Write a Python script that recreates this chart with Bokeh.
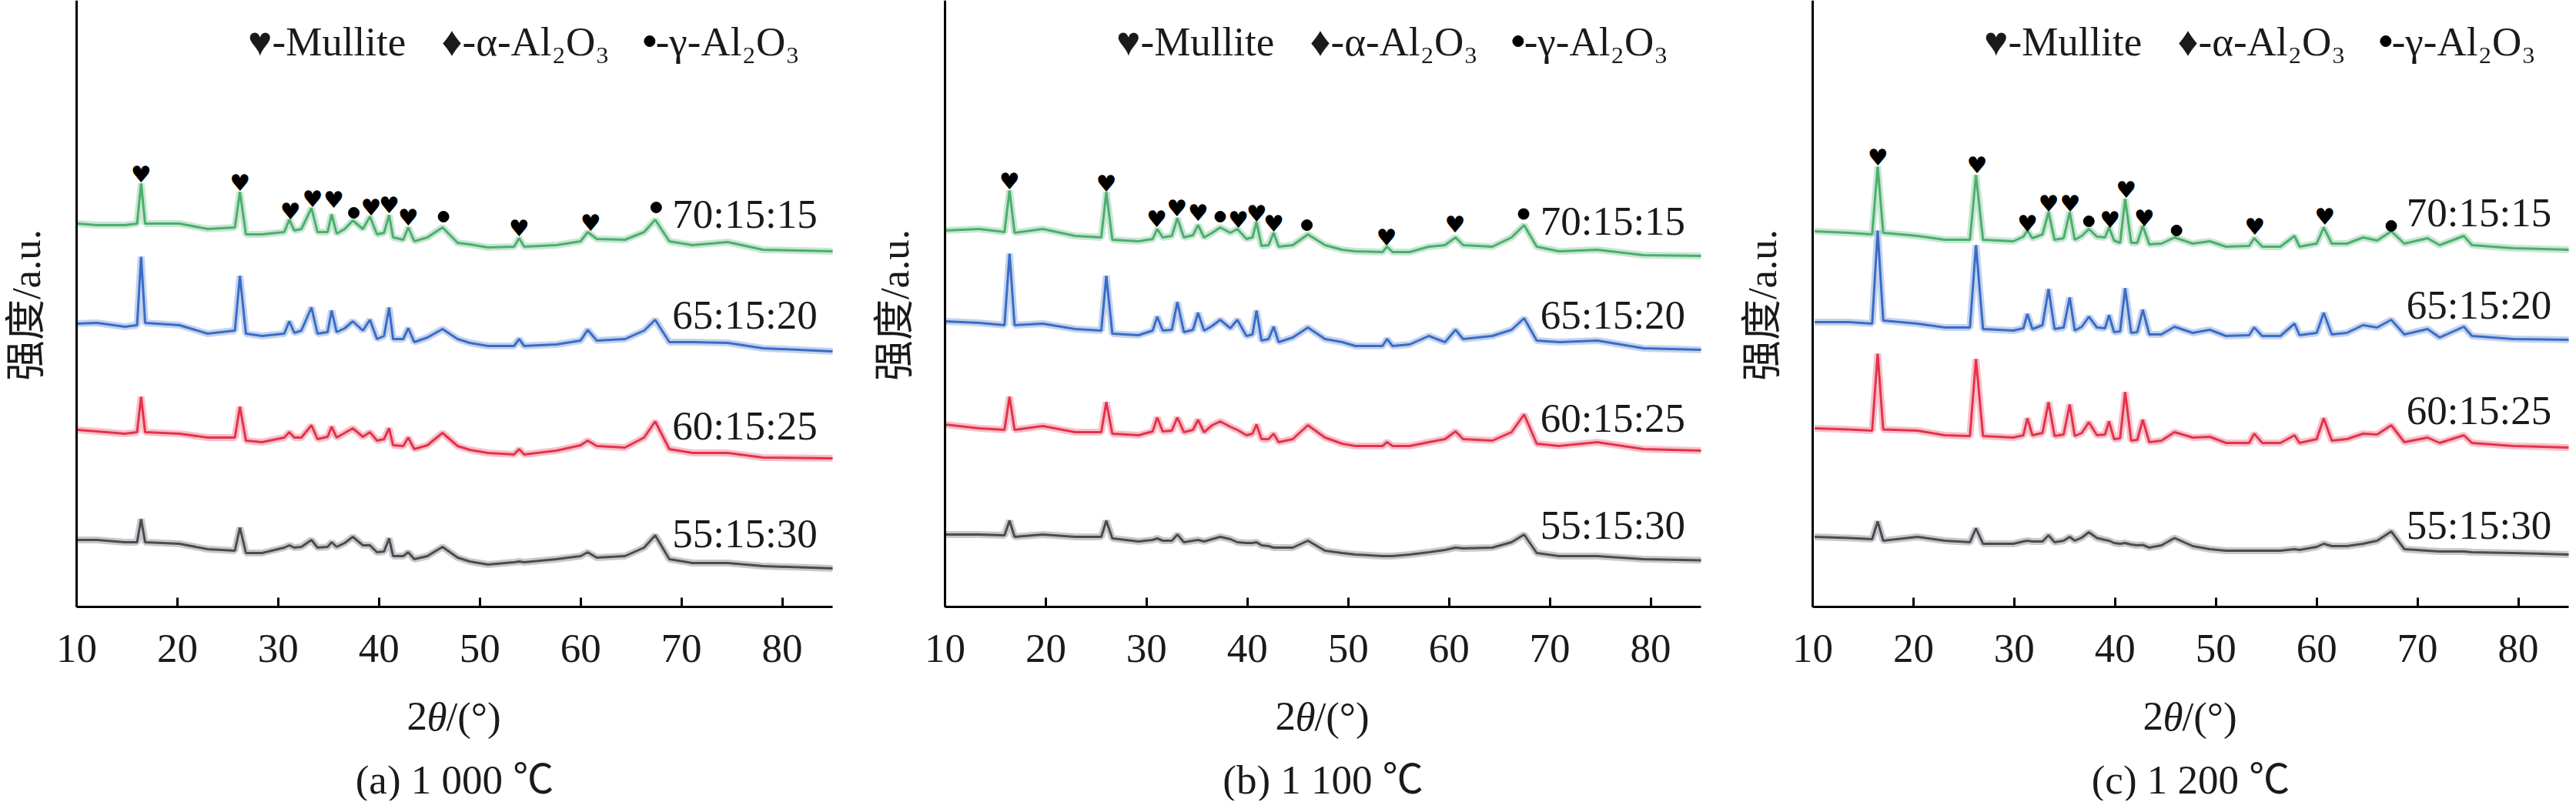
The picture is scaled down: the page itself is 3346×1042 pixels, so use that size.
import math
from bokeh.plotting import figure
from bokeh.models import Range1d, FixedTicker, LinearAxis
from bokeh.layouts import row
from bokeh.embed import file_html
from bokeh.resources import INLINE
from bokeh.core.properties import value

# XRD patterns: 2theta (deg) and stacked intensity (a.u.)
samples = ["70:15:15", "65:15:20", "60:15:25", "55:15:30"]
captions = ["(a) 1 000 ℃", "(b) 1 100 ℃", "(c) 1 200 ℃"]
legend_items = ["♥-Mullite", "♦-α-Al₂O₃", "-γ-Al₂O₃"]
xticks = [10, 20, 30, 40, 50, 60, 70, 80]

# ---- (a) 1000 C ----
xa = [10.1, 12.0, 14.8, 16.0, 16.4, 16.8, 20.2, 23.0, 25.7, 26.2, 26.8, 28.4, 30.6, 31.1, 31.6,
      32.3, 33.3, 33.9, 34.9, 35.3, 35.8, 36.6, 37.4, 38.4, 39.1, 39.8, 40.5, 41.0, 41.4, 42.4,
      42.9, 43.5, 44.8, 46.3, 47.8, 49.0, 50.8, 53.4, 53.9, 54.4, 57.6, 60.0, 60.7, 61.6, 64.4,
      66.3, 67.4, 68.8, 71.1, 74.6, 78.1, 85.0]
a_70 = [49.8, 49.6, 49.6, 49.8, 55.0, 49.8, 49.8, 49.1, 49.3, 53.9, 48.4, 48.4, 48.7, 50.3, 48.9,
        49.1, 51.8, 48.7, 48.7, 51.0, 48.5, 49.1, 50.2, 49.1, 50.7, 48.4, 48.6, 50.9, 48.0, 47.7,
        49.3, 47.5, 48.0, 49.3, 47.3, 47.1, 46.7, 46.8, 47.9, 46.8, 47.0, 47.5, 48.7, 47.8, 47.7,
        48.7, 50.3, 47.5, 47.0, 47.4, 46.4, 46.2]
a_65 = [36.8, 36.9, 36.4, 36.6, 45.5, 36.9, 36.6, 35.5, 35.9, 43.0, 35.5, 35.2, 35.5, 37.1, 35.6,
        35.9, 38.9, 35.5, 35.7, 38.5, 35.7, 36.2, 37.1, 35.9, 37.3, 34.8, 35.2, 38.9, 34.8, 34.8,
        36.2, 34.4, 35.0, 36.1, 34.8, 34.3, 33.9, 33.9, 34.8, 33.9, 34.1, 34.6, 36.0, 34.6, 34.8,
        35.9, 37.3, 34.4, 34.4, 34.3, 33.6, 33.2]
a_60 = [23.0, 22.8, 22.5, 22.7, 27.3, 22.7, 22.5, 22.0, 22.0, 26.0, 21.6, 21.4, 22.0, 22.7, 22.0,
        22.0, 23.6, 21.8, 22.1, 23.4, 22.0, 22.6, 23.2, 22.1, 22.7, 21.6, 21.8, 23.2, 21.0, 20.9,
        22.0, 20.5, 21.0, 22.6, 20.9, 20.4, 20.0, 19.8, 20.5, 19.8, 20.3, 21.0, 21.6, 20.9, 20.7,
        22.0, 24.1, 20.5, 20.0, 20.0, 19.4, 19.3]
a_55 = [8.7, 8.7, 8.4, 8.4, 11.4, 8.4, 8.2, 7.5, 7.3, 10.3, 7.0, 7.0, 7.7, 8.0, 7.7,
        7.8, 8.7, 7.7, 7.8, 8.4, 7.8, 8.3, 9.1, 8.0, 8.0, 7.1, 7.2, 8.9, 6.6, 6.6,
        7.1, 6.2, 6.6, 7.8, 6.4, 5.9, 5.5, 5.8, 5.9, 5.8, 6.2, 6.6, 7.1, 6.4, 6.6,
        7.7, 9.3, 6.2, 5.7, 5.7, 5.3, 5.0]
mullite_a_x = [16.4, 26.2, 31.2, 33.4, 35.5, 39.2, 41.0, 42.9, 53.9, 61.0]
mullite_a_y = [56.2, 55.1, 51.4, 53.0, 52.9, 51.9, 52.2, 50.6, 49.2, 49.9]
gamma_a_x = [37.5, 46.4, 67.5]
gamma_a_y = [51.2, 50.7, 51.9]

# ---- (b) 1100 C ----
xb = [10.0, 13.4, 15.9, 16.4, 16.9, 19.7, 22.9, 25.5, 26.0, 26.6, 29.2, 30.6, 31.05, 31.6, 32.5,
      33.05, 33.7, 34.6, 35.1, 35.7, 36.5, 37.3, 38.3, 39.0, 39.9, 40.5, 40.9, 41.4, 42.1, 42.6,
      43.1, 44.5, 46.0, 47.7, 49.4, 50.7, 53.4, 53.85, 54.4, 56.1, 58.0, 59.6, 60.65, 61.4, 64.3,
      66.2, 67.45, 68.7, 70.9, 74.7, 79.3, 85.0]
b_70 = [48.9, 49.1, 48.7, 54.1, 48.6, 49.1, 48.2, 48.0, 53.9, 47.7, 47.5, 47.8, 49.1, 48.0, 48.2,
        50.5, 48.0, 48.3, 49.6, 48.0, 48.6, 49.3, 48.6, 49.1, 47.8, 48.0, 50.0, 46.9, 47.0, 48.6,
        46.8, 47.0, 48.4, 47.0, 46.4, 46.2, 46.1, 46.8, 46.1, 46.1, 46.8, 47.0, 48.0, 47.0, 46.8,
        48.0, 49.6, 46.8, 46.2, 46.4, 45.7, 45.6]
b_65 = [37.1, 36.9, 36.6, 45.9, 36.6, 36.8, 36.1, 35.9, 43.0, 35.5, 35.3, 35.9, 37.7, 35.9, 36.0,
        39.6, 35.7, 36.0, 38.2, 35.9, 36.5, 37.3, 36.2, 37.3, 35.2, 35.4, 38.5, 34.6, 34.8, 36.4,
        34.4, 35.0, 36.3, 34.8, 34.4, 33.9, 33.9, 34.8, 33.9, 34.1, 35.2, 34.4, 36.0, 34.8, 35.2,
        36.0, 37.5, 34.6, 34.4, 34.6, 33.6, 33.4]
b_60 = [23.7, 23.2, 23.0, 27.3, 23.0, 23.5, 22.7, 22.7, 26.6, 22.5, 22.3, 22.8, 24.6, 22.8, 22.9,
        24.6, 22.7, 23.0, 24.3, 22.7, 23.6, 24.1, 23.4, 23.0, 22.3, 22.5, 23.7, 21.8, 21.8, 22.5,
        21.4, 21.8, 23.6, 22.0, 21.2, 20.9, 20.9, 21.4, 20.9, 20.9, 21.4, 21.8, 22.8, 21.8, 21.6,
        22.7, 25.0, 21.2, 20.9, 21.4, 20.5, 20.3]
b_55 = [9.4, 9.4, 9.3, 11.2, 9.1, 9.4, 9.1, 9.1, 11.2, 8.9, 8.5, 8.7, 8.9, 8.6, 8.6,
        9.4, 8.4, 8.6, 8.7, 8.5, 8.8, 9.1, 8.8, 8.4, 8.3, 8.3, 8.4, 8.0, 7.9, 7.7,
        7.7, 7.7, 8.6, 7.3, 7.0, 6.8, 6.6, 6.6, 6.6, 6.8, 7.1, 7.4, 7.7, 7.6, 7.7,
        8.4, 9.4, 7.0, 6.6, 6.6, 6.2, 6.05]
mullite_b_x = [16.4, 26.0, 31.0, 33.0, 35.1, 39.1, 40.9, 42.6, 53.8, 60.6]
mullite_b_y = [55.3, 55.0, 50.4, 51.8, 51.2, 50.3, 51.1, 49.8, 48.0, 49.7]
gamma_b_x = [37.3, 45.9, 67.4]
gamma_b_y = [50.7, 49.6, 51.05]

# ---- (c) 1200 C ----
xc = [10.2, 13.6, 15.9, 16.45, 17.0, 20.4, 23.1, 25.6, 26.2, 26.9, 29.9, 30.9, 31.3, 31.8, 32.8,
      33.4, 34.0, 34.9, 35.5, 36.0, 36.7, 37.4, 38.2, 39.0, 39.4, 39.9, 40.5, 41.0, 41.6, 42.2,
      42.75, 43.4, 44.6, 45.9, 47.7, 49.4, 51.0, 53.3, 53.8, 54.6, 56.4, 57.8, 58.3, 60.0, 60.7,
      61.5, 63.0, 64.6, 66.0, 67.4, 68.7, 71.0, 72.2, 74.6, 75.4, 79.5, 85.0]
c_70 = [48.8, 48.6, 48.4, 57.2, 48.6, 48.2, 47.7, 47.7, 56.1, 47.7, 47.5, 48.1, 48.9, 47.9, 48.4,
        51.3, 47.7, 47.9, 51.3, 47.7, 48.2, 49.1, 48.1, 48.0, 49.3, 47.6, 47.3, 53.0, 47.3, 47.3,
        49.5, 47.1, 47.2, 48.0, 47.2, 47.5, 46.8, 46.9, 47.9, 46.8, 46.8, 48.2, 46.8, 47.2, 49.3,
        47.2, 47.2, 48.0, 47.6, 48.8, 47.2, 47.9, 47.0, 48.2, 47.0, 46.6, 46.4]
c_65 = [37.0, 37.0, 36.8, 48.9, 37.2, 36.8, 36.3, 36.3, 47.0, 36.1, 35.9, 36.2, 38.05, 36.1, 36.6,
        41.3, 36.1, 36.3, 40.2, 35.9, 36.4, 37.7, 36.3, 36.2, 37.9, 35.7, 35.8, 41.4, 35.6, 35.7,
        38.6, 35.4, 35.4, 36.4, 35.6, 36.0, 35.2, 35.3, 36.3, 35.2, 35.2, 36.8, 35.3, 35.6, 38.2,
        35.4, 35.6, 36.6, 36.3, 37.3, 35.4, 36.1, 35.0, 36.4, 35.2, 34.8, 34.7]
c_60 = [23.2, 23.05, 22.9, 32.9, 23.05, 22.9, 22.3, 22.2, 32.2, 22.2, 22.0, 22.3, 24.5, 22.3, 22.6,
        26.6, 22.2, 22.4, 26.3, 22.2, 22.6, 24.0, 22.3, 22.4, 24.1, 21.8, 21.9, 27.9, 21.6, 21.7,
        24.3, 21.4, 21.6, 22.7, 22.0, 22.1, 21.3, 21.3, 22.5, 21.3, 21.3, 22.3, 21.3, 21.8, 24.5,
        21.6, 21.8, 22.5, 22.4, 23.6, 21.4, 22.0, 21.3, 22.3, 21.3, 20.9, 20.7]
c_55 = [9.1, 8.95, 8.8, 11.1, 8.6, 9.1, 8.6, 8.4, 10.2, 8.2, 8.2, 8.5, 8.6, 8.5, 8.5,
        9.3, 8.4, 8.6, 9.1, 8.6, 9.0, 9.7, 8.95, 8.7, 8.6, 8.3, 8.2, 8.3, 8.1, 8.0,
        8.05, 7.7, 8.0, 8.95, 7.9, 7.5, 7.3, 7.3, 7.3, 7.3, 7.3, 7.5, 7.4, 7.8, 8.2,
        7.9, 7.9, 8.2, 8.6, 9.8, 7.5, 7.3, 7.2, 7.2, 7.1, 7.0, 6.8]
mullite_c_x = [16.46, 26.3, 31.3, 33.4, 35.55, 39.5, 41.1, 42.9, 53.85, 60.8]
mullite_c_y = [58.4, 57.4, 49.8, 52.4, 52.4, 50.3, 54.2, 50.55, 49.4, 50.7]
gamma_c_x = [37.4, 46.1, 67.4]
gamma_c_y = [50.1, 48.9, 49.5]

# where the composition labels sit (left x, centre y) in each panel
label_x = [69.1, 69.05, 68.9]
label_y_a = [51.05, 38.0, 23.55, 9.6]
label_y_b = [50.2, 38.0, 24.6, 10.7]
label_y_c = [51.3, 39.3, 25.55, 10.7]

COLORS = ["#4bae6e", "#3a6cc6", "#e4324c", "#4a4b50"]
INK = "#1a1a1a"
SERIF = "Liberation Serif"
SERIF_CJK = "Liberation Serif, Noto Sans CJK SC"
FS = "53px"
PX = 982 / 75.0      # pixels per degree
PY = 10.0            # pixels per intensity unit
H = 1040
TOP = 78.8           # intensity value at the very top of the figure


def make_panel(idx, x, curves, hx, hy, gx, gy, ly, width, bl, br):
    # the frame fills the whole figure; the axes are pinned at 2theta=10 and I=0
    p = figure(width=width, height=H,
               x_range=Range1d(10 - bl / PX, 85 + br / PX),
               y_range=Range1d(TOP - H / PY, TOP),
               x_axis_type=None, y_axis_type=None,
               output_backend="svg", toolbar_location=None, min_border=0,
               min_border_left=0, min_border_right=0, min_border_top=0, min_border_bottom=0)
    p.outline_line_color = None
    p.xgrid.visible = False
    p.ygrid.visible = False

    xax = LinearAxis(fixed_location=0, bounds=(10, 85), ticker=FixedTicker(ticks=xticks))
    xax.minor_tick_line_color = None
    xax.major_tick_in = 12
    xax.major_tick_out = 0
    xax.major_tick_line_width = 3
    xax.axis_line_width = 3
    xax.major_label_text_font = SERIF
    xax.major_label_text_font_size = FS
    xax.major_label_text_color = INK
    xax.major_label_standoff = 36
    p.add_layout(xax, "below")

    yax = LinearAxis(fixed_location=10, bounds=(0, TOP), ticker=FixedTicker(ticks=[]))
    yax.minor_tick_line_color = None
    yax.major_tick_in = 0
    yax.major_tick_out = 0
    yax.axis_line_width = 3
    yax.major_label_text_font_size = "0px"
    p.add_layout(yax, "left")

    for ys, c in zip(curves, COLORS):
        p.line(x, ys, line_color=c, line_width=9, line_alpha=0.3)
        p.line(x, ys, line_color=c, line_width=3)

    # phase markers
    p.text(x=hx, y=hy, text=["♥"] * len(hx), text_font=value("DejaVu Sans"), text_font_size="30px",
           text_align="center", text_baseline="middle", text_color="black")
    p.scatter(gx, gy, size=14, color="black")

    # composition labels
    p.text(x=[label_x[idx]] * 4, y=ly, text=samples, text_font=value(SERIF), text_font_size=FS,
           text_align="left", text_baseline="middle", text_color=INK)

    # phase legend along the top
    p.text(x=[27.0, 46.2, 67.45], y=[73.5] * 3, text=legend_items, text_font=value(SERIF),
           text_font_size=FS, text_align="left", text_baseline="middle", text_color=INK)
    p.scatter([66.85], [73.5], size=14, color="black")

    # y title
    p.text(x=[10 - 66 / PX], y=[39.2], text=["强度/a.u."], angle=math.pi / 2,
           text_align="center", text_baseline="middle", text_font=value(SERIF_CJK),
           text_font_size=FS, text_color=INK)
    # x title 2θ/(°) with italic theta
    for t, off, style in [("2", -62, "normal"), ("θ", -36, "italic"), ("/(°)", -11, "normal")]:
        p.text(x=[47.5 + off / PX], y=[-14.2], text=[t], text_align="left",
               text_baseline="middle", text_font=value(SERIF), text_font_size=FS,
               text_font_style=style, text_color=INK)
    # panel caption
    p.text(x=[47.5], y=[-22.4], text=[captions[idx]], text_align="center",
           text_baseline="middle", text_font=value(SERIF_CJK), text_font_size=FS,
           text_color=INK)
    return p


# panel figures: a 0-1125, b 1125-2245, c 2245-3344 (frames start at 99, 1227, 2354)
pa = make_panel(0, xa, [a_70, a_65, a_60, a_55], mullite_a_x, mullite_a_y, gamma_a_x, gamma_a_y,
                label_y_a, 1125, 99, 44)
pb = make_panel(1, xb, [b_70, b_65, b_60, b_55], mullite_b_x, mullite_b_y, gamma_b_x, gamma_b_y,
                label_y_b, 1120, 102, 36)
pc = make_panel(2, xc, [c_70, c_65, c_60, c_55], mullite_c_x, mullite_c_y, gamma_c_x, gamma_c_y,
                label_y_c, 1099, 109, 8)

layout = row(pa, pb, pc)
open("out.html", "w").write(file_html(layout, INLINE))
